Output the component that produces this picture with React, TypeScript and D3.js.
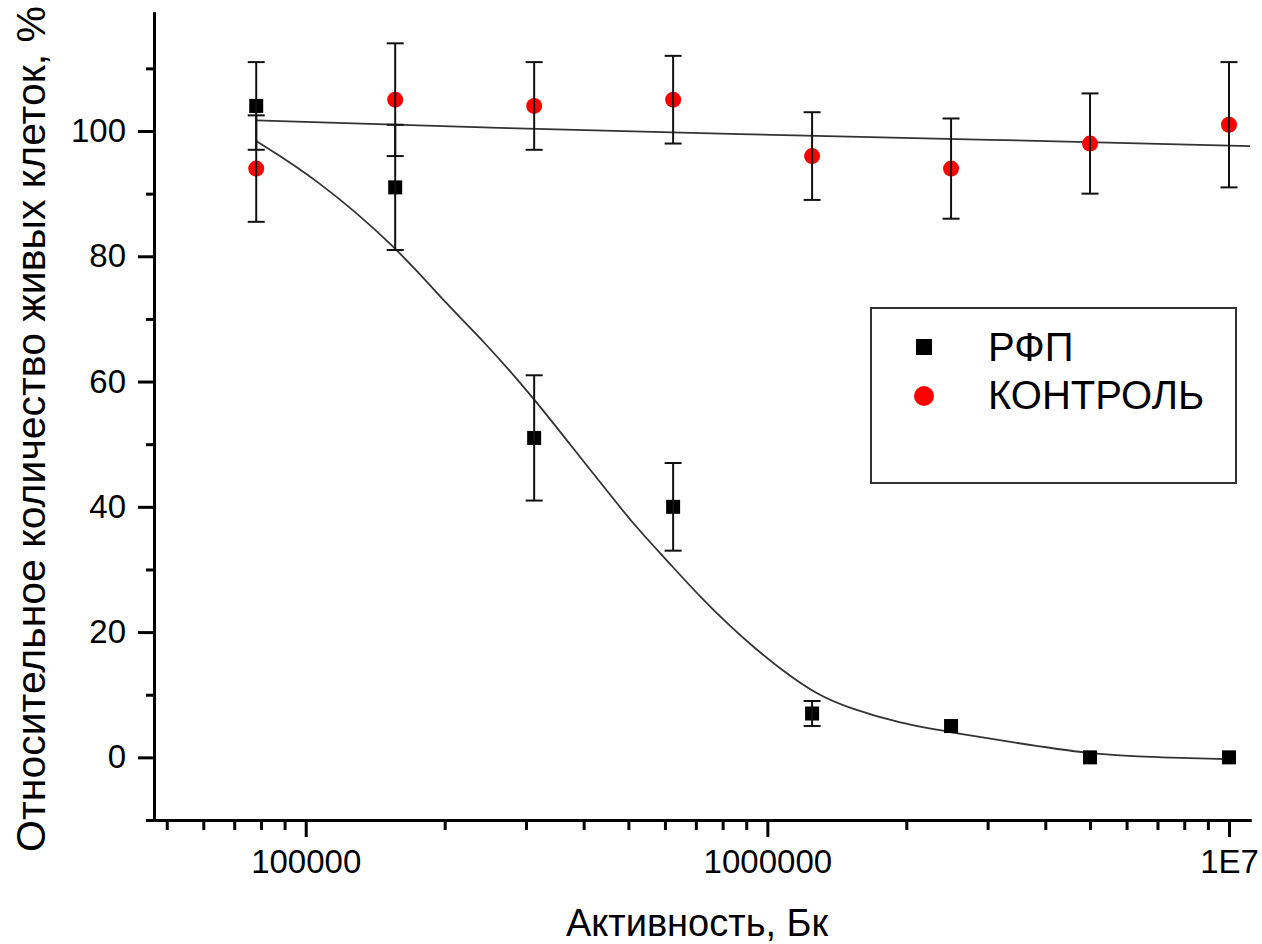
import React, { useEffect, useRef } from "react";
import * as d3 from "d3";

// measured points (activity, Bq)
const activity = [78125, 156250, 312500, 625000, 1250000, 2500000, 5000000, 10000000];
const rfpValues = [104, 91, 51, 40, 7, 5, 0, 0];
const rfpErrors = [7, 10, 10, 7, 2, 0, 0, 0];
const controlValues = [94, 105, 104, 105, 96, 94, 98, 101];
const controlErrors = [8.5, 9, 7, 7, 7, 8, 8, 10];

// fit curves
const rfpFitX = [78125, 105000, 156250, 205000, 242000, 312500, 375000, 435000, 510000, 605000, 715000, 840000, 930000, 1080000, 1280000, 1510000, 1940000, 2500000, 3400000, 5000000, 7000000, 10000000];
const rfpFitY = [98.4, 92.5, 81.7, 71.8, 66.6, 57.3, 49.8, 43.9, 37.4, 31.5, 25.6, 20.6, 17.7, 13.8, 10.0, 7.8, 5.4, 4.0, 2.4, 0.5, 0, -0.3];
const controlFitX = [78125, 263000, 872000, 3035000, 11100000];
const controlFitY = [101.7, 100.5, 99.5, 98.6, 97.6];

const xMajorTicks = [100000, 1000000, 10000000];
const xTickLabels = ["100000", "1000000", "1E7"];
const yMajorTicks = [0, 20, 40, 60, 80, 100];
const yMinorTicks = [-10, 10, 30, 50, 70, 90, 110];

const seriesNames = ["РФП", "КОНТРОЛЬ"];
const xTitle = "Активность, Бк";
const yTitle = "Относительное количество живых клеток, %";

const FONT = "'Liberation Sans', Arial, sans-serif";

const App = () => {
    const svgRef = useRef(null);

    useEffect(() => {
        const width = 1262, height = 944;
        const left = 154, right = 1251, top = 12, bottom = 820;

        const svg = d3.select(svgRef.current)
            .attr("width", width)
            .attr("height", height);
        svg.selectAll("*").remove();

        const x = d3.scaleLog().domain([46920, 11160000]).range([left, right]);
        const y = d3.scaleLinear().domain([-10, 119]).range([bottom, top]);

        const xMinor = [];
        [10000, 100000, 1000000].forEach(dec => {
            for (let k = 2; k <= 9; k++) {
                const v = dec * k;
                if (v > 46920 && v < 11160000) xMinor.push(v);
            }
        });

        // axes
        const styleAxis = g => {
            g.selectAll("path, line").attr("stroke", "#000").attr("stroke-width", 3);
            g.selectAll("text").attr("font-family", FONT).attr("font-size", 33).attr("fill", "#000");
        };

        svg.append("g")
            .attr("transform", `translate(0,${bottom})`)
            .call(d3.axisBottom(x).tickValues(xMinor).tickSize(10).tickSizeOuter(0).tickFormat(() => ""))
            .call(styleAxis);

        svg.append("g")
            .attr("transform", `translate(0,${bottom})`)
            .call(d3.axisBottom(x).tickValues(xMajorTicks).tickSize(17).tickSizeOuter(0).tickPadding(13)
                .tickFormat((d, i) => xTickLabels[i]))
            .call(styleAxis);

        svg.append("g")
            .attr("transform", `translate(${left},0)`)
            .call(d3.axisLeft(y).tickValues(yMinorTicks).tickSize(8).tickSizeOuter(0).tickFormat(() => ""))
            .call(styleAxis);

        svg.append("g")
            .attr("transform", `translate(${left},0)`)
            .call(d3.axisLeft(y).tickValues(yMajorTicks).tickSize(16).tickSizeOuter(0).tickPadding(12))
            .call(styleAxis);

        // axis titles
        svg.append("text")
            .attr("x", 697).attr("y", 936)
            .attr("text-anchor", "middle")
            .attr("font-family", FONT).attr("font-size", 38)
            .text(xTitle);

        svg.append("text")
            .attr("transform", "translate(45,429) rotate(-90)")
            .attr("text-anchor", "middle")
            .attr("font-family", FONT).attr("font-size", 41)
            .text(yTitle);

        // fit lines
        const line = d3.line().x(d => x(d[0])).y(d => y(d[1]));
        svg.append("path")
            .datum(controlFitX.map((v, i) => [v, controlFitY[i]]))
            .attr("d", line)
            .attr("fill", "none").attr("stroke", "#333").attr("stroke-width", 1.8);
        svg.append("path")
            .datum(rfpFitX.map((v, i) => [v, rfpFitY[i]]))
            .attr("d", line.curve(d3.curveBasis))
            .attr("fill", "none").attr("stroke", "#333").attr("stroke-width", 1.8);

        // markers
        svg.selectAll(".ctrl")
            .data(activity)
            .enter().append("circle")
            .attr("cx", d => x(d))
            .attr("cy", (d, i) => y(controlValues[i]))
            .attr("r", 8)
            .attr("fill", "#ff0000");

        svg.selectAll(".rfp")
            .data(activity)
            .enter().append("rect")
            .attr("x", d => x(d) - 7)
            .attr("y", (d, i) => y(rfpValues[i]) - 7)
            .attr("width", 14).attr("height", 14)
            .attr("fill", "#000");

        // error bars
        const errorBars = (vals, errs) => {
            const g = svg.append("g").attr("stroke", "#111").attr("stroke-width", 2);
            activity.forEach((a, i) => {
                if (!errs[i]) return;
                const cx = x(a);
                const y0 = y(vals[i] - errs[i]);
                const y1 = y(vals[i] + errs[i]);
                g.append("line").attr("x1", cx).attr("x2", cx).attr("y1", y0).attr("y2", y1);
                g.append("line").attr("x1", cx - 8.5).attr("x2", cx + 8.5).attr("y1", y0).attr("y2", y0);
                g.append("line").attr("x1", cx - 8.5).attr("x2", cx + 8.5).attr("y1", y1).attr("y2", y1);
            });
        };
        errorBars(rfpValues, rfpErrors);
        errorBars(controlValues, controlErrors);

        // legend
        const lg = svg.append("g");
        lg.append("rect")
            .attr("x", 871).attr("y", 308).attr("width", 365).attr("height", 175)
            .attr("fill", "#fff").attr("stroke", "#333").attr("stroke-width", 2);
        lg.append("rect")
            .attr("x", 916).attr("y", 339).attr("width", 16).attr("height", 16)
            .attr("fill", "#000");
        lg.append("circle")
            .attr("cx", 924).attr("cy", 396).attr("r", 10)
            .attr("fill", "#ff0000");
        lg.selectAll(".lt")
            .data(seriesNames)
            .enter().append("text")
            .attr("x", 988)
            .attr("y", (d, i) => 361 + i * 48)
            .attr("font-family", FONT).attr("font-size", 40)
            .text(d => d);
    }, []);

    return <svg ref={svgRef} style={{ position: "absolute", left: 0, top: 0, background: "#fff" }}></svg>;
};

export default App;
